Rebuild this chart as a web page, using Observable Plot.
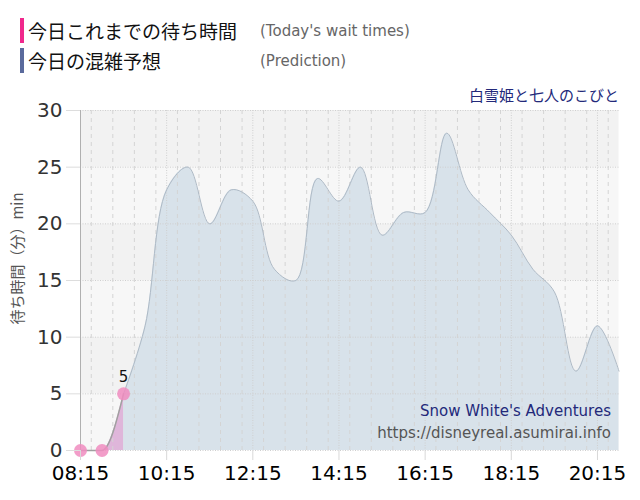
<!DOCTYPE html>
<html>
<head>
<meta charset="utf-8">
<script src="https://cdn.jsdelivr.net/npm/d3@7"></script>
<script src="https://cdn.jsdelivr.net/npm/@observablehq/plot@0.6"></script>
<style>
  body { margin: 0; background: #fff; font-family: "DejaVu Sans", "Noto Sans CJK JP", sans-serif; }
  #wrap { position: relative; width: 640px; height: 500px; }
  #legend { position: relative; height: 80px; }
  .row { position: absolute; left: 20px; height: 25px; display: flex; align-items: center; }
  .bar { width: 4px; height: 25px; margin-right: 4px; }
  .jp { font-family: "Noto Sans CJK JP", sans-serif; font-size: 19px; color: #111; width: 232px; }
  .en { font-family: "DejaVu Sans", sans-serif; font-size: 15px; color: #666; }
</style>
</head>
<body>
<div id="wrap">
  <div id="legend">
    <div class="row" style="top:18px"><div class="bar" style="background:#f0288c"></div><span class="jp">今日これまでの待ち時間</span><span class="en">(Today's wait times)</span></div>
    <div class="row" style="top:48px"><div class="bar" style="background:#5a6a9c"></div><span class="jp">今日の混雑予想</span><span class="en">(Prediction)</span></div>
  </div>
  <div id="chart"></div>
</div>
<script>
const attraction = "白雪姫と七人のこびと";
const attractionEn = "Snow White's Adventures";
const siteUrl = "https://disneyreal.asumirai.info";
const yLabel = "待ち時間（分）min";

const predTimes = ["09:15","09:45","10:15","10:45","11:15","11:45","12:15","12:45","13:15","13:45","14:15","14:45","15:15","15:45","16:15","16:45","17:15","17:45","18:15","18:45","19:15","19:45","20:15","20:45"];
const predValues = [5, 11, 23, 25, 20, 23, 22, 16, 15, 24, 22, 25, 19, 21, 21, 28, 23, 21, 19, 16, 14, 7, 11, 7];

const actualTimes = ["08:15","08:45","09:15"];
const actualValues = [0, 0, 5];

const xTickLabels = ["08:15","10:15","12:15","14:15","16:15","18:15","20:15"];
const yTicks = [0, 5, 10, 15, 20, 25, 30];
const xStart = "08:15", xEnd = "20:45";

const parse = d3.timeParse("%H:%M");
const pred = predTimes.map((t, i) => ({t: parse(t), v: predValues[i]}));
const actual = actualTimes.map((t, i) => ({t: parse(t), v: actualValues[i]}));
const xTicks = xTickLabels.map(parse);
const minorTicks = d3.timeMinute.every(30).range(parse(xStart), d3.timeMinute.offset(parse(xEnd), 1));
const bands = yTicks.slice(0, -1).map((y, i) => ({y1: y, y2: yTicks[i + 1], shade: i % 2 === 0 ? "#f7f7f7" : "#f2f2f2"}));
const last = actual[actual.length - 1];

const chart = Plot.plot({
  width: 640,
  height: 420,
  marginTop: 30,
  marginBottom: 50,
  marginLeft: 80,
  marginRight: 21.5,
  style: {fontFamily: "'DejaVu Sans', 'Noto Sans CJK JP', sans-serif", background: "transparent"},
  x: {type: "time", domain: [parse(xStart), parse(xEnd)]},
  y: {domain: [0, 30]},
  marks: [
    Plot.rect(bands, {y1: "y1", y2: "y2", fill: "shade"}),
    Plot.areaY(pred, {x: "t", y: "v", fill: "#d8e2ea", curve: "catmull-rom"}),
    Plot.areaY(actual, {x: "t", y: "v", fill: "#dfb6da", curve: "monotone-x"}),
    Plot.ruleX(minorTicks, {stroke: "#d4d4d4", strokeDasharray: "4,4", strokeWidth: 1}),
    Plot.ruleX(xTicks, {stroke: "#cfcfcf", strokeDasharray: "1,1.5", strokeWidth: 1}),
    Plot.ruleY(yTicks, {stroke: "#cfcfcf", strokeDasharray: "1,1.5", strokeWidth: 1}),
    Plot.lineY(pred, {x: "t", y: "v", stroke: "#aebac6", strokeWidth: 1, curve: "catmull-rom"}),
    Plot.lineY(actual, {x: "t", y: "v", stroke: "#a0a0a0", strokeWidth: 1.5, curve: "monotone-x"}),
    Plot.ruleX([parse(xStart)], {stroke: "#b0b0b0", strokeWidth: 1}),
    Plot.dot(actual, {x: "t", y: "v", r: 6.5, fill: "#f08cc0", fillOpacity: 0.85}),
    Plot.text([last], {x: "t", y: "v", text: d => String(d.v), dy: -17, fontSize: 15, fill: "#111"}),
    Plot.axisX({ticks: xTicks, tickFormat: "%H:%M", tickSize: 10, tickPadding: 5, stroke: "#d8d8d8", fill: "#000", fontSize: 20, label: null}),
    Plot.axisY({ticks: yTicks, tickSize: 14, tickPadding: 4, stroke: "#dddddd", fill: "#333", fontSize: 20, label: null}),
    Plot.text([yLabel], {frameAnchor: "left", rotate: -90, textAnchor: "middle", dx: -62, dy: -22, fontSize: 15, fill: "#555", fontFamily: "'Noto Sans CJK JP', sans-serif"}),
    Plot.text([attraction], {frameAnchor: "top-right", dy: -20, fontSize: 15, fill: "#23297a", textAnchor: "end", fontFamily: "'Noto Sans CJK JP', sans-serif"}),
    Plot.text([attractionEn], {frameAnchor: "bottom-right", dx: -8, dy: -35, fontSize: 15, fill: "#23297a", textAnchor: "end"}),
    Plot.text([siteUrl], {frameAnchor: "bottom-right", dx: -8, dy: -13, fontSize: 15, fill: "#555", textAnchor: "end"})
  ]
});
document.getElementById("chart").appendChild(chart);
</script>
</body>
</html>
